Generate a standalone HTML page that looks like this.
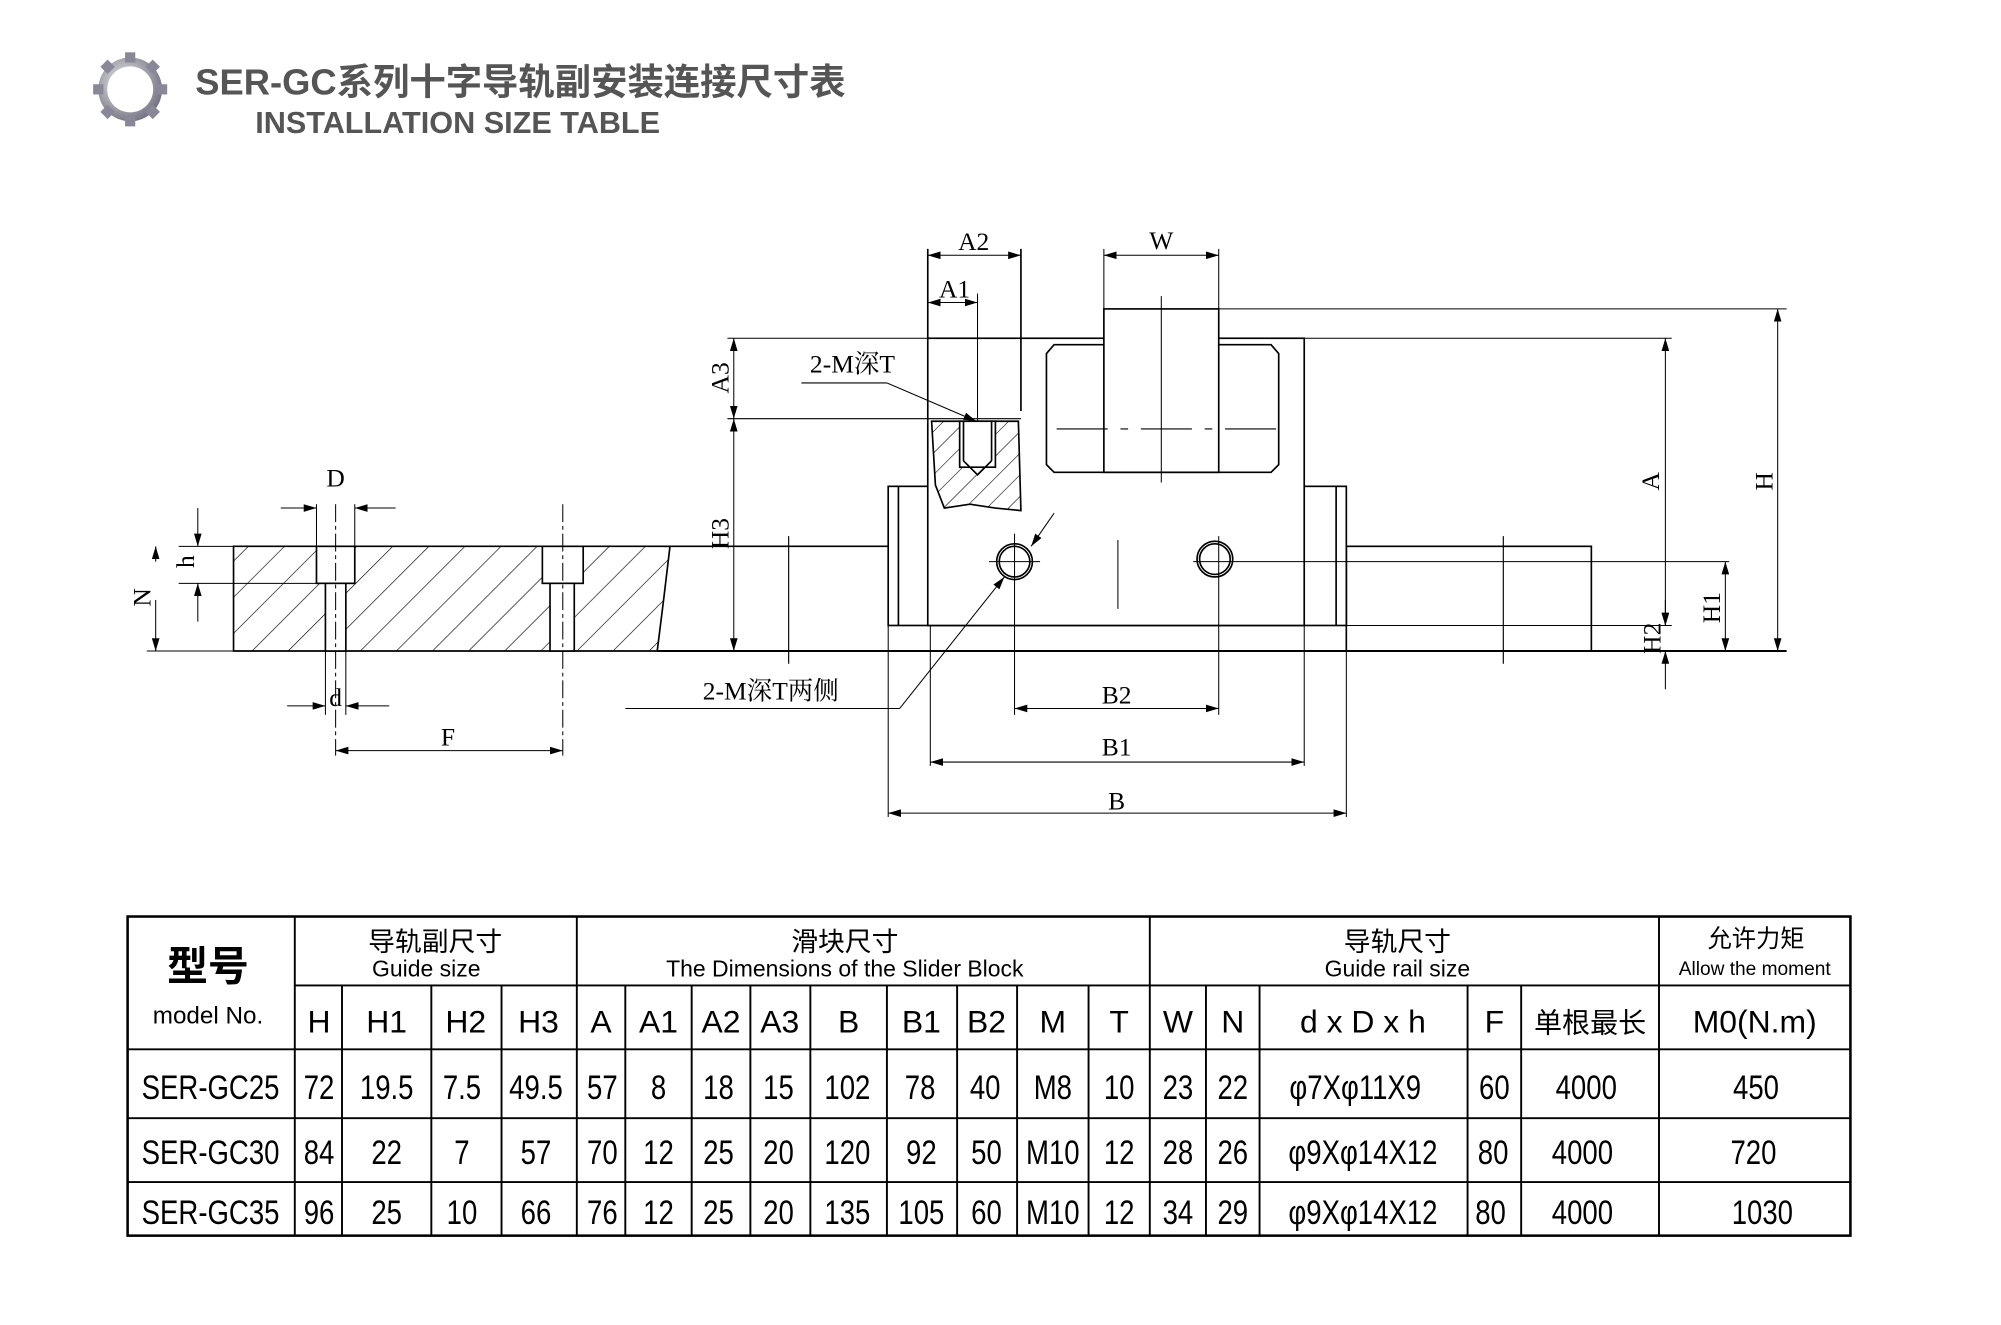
<!DOCTYPE html>
<html><head><meta charset="utf-8"><style>
html,body{margin:0;padding:0;background:#fff;}
svg{display:block;}
.t{font-family:"Liberation Serif","Noto Serif CJK SC",serif;}
.s{font-family:"Liberation Sans","Noto Sans CJK SC",sans-serif;}
</style></head><body>
<svg width="2001" height="1325" viewBox="0 0 1568 1038" preserveAspectRatio="none" xmlns="http://www.w3.org/2000/svg">
<defs>
<pattern id="h" patternUnits="userSpaceOnUse" width="20" height="20" patternTransform="rotate(45)"><line x1="0" y1="0" x2="0" y2="20" stroke="#000" stroke-width="1"/></pattern>
<pattern id="h2" patternUnits="userSpaceOnUse" width="12" height="12" patternTransform="rotate(45)"><line x1="0" y1="0" x2="0" y2="12" stroke="#000" stroke-width="0.9"/></pattern>
<marker id="a" markerWidth="10" markerHeight="6" refX="10" refY="3" orient="auto-start-reverse" markerUnits="userSpaceOnUse"><path d="M0,0 L10,3 L0,6z" fill="#000"/></marker>
<radialGradient id="g" cx="0.4" cy="0.4" r="0.7"><stop offset="0" stop-color="#eee"/><stop offset="1" stop-color="#667"/></radialGradient>
</defs>
<g transform="translate(102,70)">
<circle r="25" fill="url(#g)"/>
<g fill="#889">
<rect x="-4" y="-29" width="8" height="8"/><rect x="-4" y="21" width="8" height="8"/><rect x="-29" y="-4" width="8" height="8"/><rect x="21" y="-4" width="8" height="8"/>
<rect x="-4" y="-29" width="8" height="8" transform="rotate(45)"/><rect x="-4" y="21" width="8" height="8" transform="rotate(45)"/><rect x="-29" y="-4" width="8" height="8" transform="rotate(45)"/><rect x="21" y="-4" width="8" height="8" transform="rotate(45)"/>
</g>
<circle r="18" fill="#fff"/>
</g>
<text x="153" y="74" class="s" font-size="28.5" font-weight="bold" fill="#555">SER-GC系列十字导轨副安装连接尺寸表</text>
<text x="200" y="104" class="s" font-size="24" font-weight="bold" fill="#555">INSTALLATION SIZE TABLE</text>

<g stroke="#000" fill="none" stroke-width="1.3">
<path d="M183,428 L525,428 L520,470 L515,510 L183,510 Z" fill="url(#h)"/>
<rect x="248" y="428" width="30" height="29" fill="#fff"/>
<rect x="255" y="457" width="16" height="53" fill="#fff"/>
<rect x="425" y="428" width="32" height="29" fill="#fff"/>
<rect x="431" y="457" width="19" height="53" fill="#fff"/>
<line x1="263" y1="395" x2="263" y2="592" stroke-dasharray="14,3,3,3" stroke-width="0.8"/>
<line x1="441" y1="395" x2="441" y2="592" stroke-dasharray="14,3,3,3" stroke-width="0.8"/>
<g stroke-width="0.8">
<line x1="248" y1="395" x2="248" y2="428"/><line x1="278" y1="395" x2="278" y2="428"/>
<line x1="220" y1="398" x2="248" y2="398" marker-end="url(#a)"/><line x1="310" y1="398" x2="278" y2="398" marker-end="url(#a)"/>
<line x1="140" y1="428" x2="183" y2="428"/><line x1="140" y1="457" x2="248" y2="457"/><line x1="115" y1="510" x2="183" y2="510"/>
<line x1="155" y1="398" x2="155" y2="428" marker-end="url(#a)"/><line x1="155" y1="487" x2="155" y2="457" marker-end="url(#a)"/>
<line x1="122" y1="440" x2="122" y2="428" marker-end="url(#a)"/><line x1="122" y1="470" x2="122" y2="510" marker-end="url(#a)"/>
<line x1="225" y1="553" x2="255" y2="553" marker-end="url(#a)"/><line x1="305" y1="553" x2="271" y2="553" marker-end="url(#a)"/>
<line x1="255" y1="510" x2="255" y2="560"/><line x1="271" y1="510" x2="271" y2="560"/>
<line x1="263" y1="588" x2="441" y2="588" marker-start="url(#a)" marker-end="url(#a)"/>
</g>
<line x1="520" y1="428" x2="696" y2="428"/>
<line x1="515" y1="510" x2="1400" y2="510" stroke-width="1.6"/>
<rect x="1055" y="428" width="192" height="82"/>
<line x1="618" y1="420" x2="618" y2="520" stroke-width="0.9"/>
<line x1="1178" y1="420" x2="1178" y2="520" stroke-width="0.9"/>
<rect x="696" y="381" width="359" height="109"/>
<line x1="704" y1="381" x2="704" y2="490"/><line x1="1047" y1="381" x2="1047" y2="490"/>
<rect x="727" y="265" width="295" height="225" fill="#fff"/>
<path d="M826,270 L996,270 L1002,277 L1002,364 L996,370 L826,370 L820,364 L820,277 Z"/>
<rect x="865" y="242" width="90" height="128" fill="#fff"/>
<line x1="910" y1="232" x2="910" y2="378" stroke-width="0.8"/>
<line x1="828" y1="336" x2="1000" y2="336" stroke-dasharray="40,10,6,10" stroke-width="0.9"/>
<line x1="955" y1="242" x2="1400" y2="242" stroke-width="0.8"/>
<line x1="1022" y1="265" x2="1310" y2="265" stroke-width="0.8"/>
<line x1="570" y1="265" x2="727" y2="265" stroke-width="0.8"/>
<path d="M730,330 L798,330 L800,400 L780,398 L760,395 L740,398 L733,380 Z" fill="url(#h2)"/>
<rect x="752" y="330" width="28" height="36" fill="#fff"/>
<path d="M755,330 L755,361 M777,330 L777,361 M755,361 L766,372 L777,361"/>
<line x1="727" y1="328" x2="800" y2="328" stroke-width="0.8"/>
<line x1="570" y1="328" x2="727" y2="328" stroke-width="0.8"/>
<line x1="800" y1="195" x2="800" y2="322"/><line x1="727" y1="195" x2="727" y2="265"/>
<line x1="766" y1="230" x2="766" y2="330" stroke-width="0.8"/>
<circle cx="795" cy="440" r="14"/><circle cx="795" cy="440" r="12"/>
<circle cx="952" cy="438" r="14"/><circle cx="952" cy="438" r="12"/>
<g stroke-width="0.8">
<line x1="775" y1="440" x2="815" y2="440"/><line x1="795" y1="418" x2="795" y2="560"/>
<line x1="935" y1="440" x2="1355" y2="440"/><line x1="955" y1="420" x2="955" y2="560"/>
<line x1="876" y1="423" x2="876" y2="477"/>
<line x1="696" y1="490" x2="696" y2="640"/><line x1="1055" y1="490" x2="1055" y2="640"/>
<line x1="729" y1="490" x2="729" y2="600"/><line x1="1022" y1="490" x2="1022" y2="600"/>
<line x1="727" y1="200" x2="800" y2="200" marker-start="url(#a)" marker-end="url(#a)"/>
<line x1="727" y1="237" x2="766" y2="237" marker-start="url(#a)" marker-end="url(#a)"/>
<line x1="865" y1="195" x2="865" y2="242"/><line x1="955" y1="195" x2="955" y2="242"/>
<line x1="865" y1="200" x2="955" y2="200" marker-start="url(#a)" marker-end="url(#a)"/>
<line x1="575" y1="265" x2="575" y2="328" marker-start="url(#a)" marker-end="url(#a)"/>
<line x1="575" y1="328" x2="575" y2="510" marker-start="url(#a)" marker-end="url(#a)"/>
<line x1="1393" y1="242" x2="1393" y2="510" marker-start="url(#a)" marker-end="url(#a)"/>
<line x1="1305" y1="265" x2="1305" y2="490" marker-start="url(#a)" marker-end="url(#a)"/>
<line x1="1305" y1="470" x2="1305" y2="490" marker-end="url(#a)"/><line x1="1305" y1="540" x2="1305" y2="510" marker-end="url(#a)"/>
<line x1="1055" y1="490" x2="1310" y2="490"/>
<line x1="1352" y1="440" x2="1352" y2="510" marker-start="url(#a)" marker-end="url(#a)"/>
<line x1="795" y1="555" x2="955" y2="555" marker-start="url(#a)" marker-end="url(#a)"/>
<line x1="729" y1="597" x2="1022" y2="597" marker-start="url(#a)" marker-end="url(#a)"/>
<line x1="696" y1="637" x2="1055" y2="637" marker-start="url(#a)" marker-end="url(#a)"/>
<line x1="490" y1="555" x2="705" y2="555"/>
<line x1="705" y1="555" x2="787" y2="452" marker-end="url(#a)"/>
<line x1="826" y1="402" x2="808" y2="428" marker-end="url(#a)"/>
<line x1="628" y1="300" x2="695" y2="300"/>
<line x1="695" y1="300" x2="765" y2="330" marker-end="url(#a)"/>
</g>
</g>
<g class="t" font-size="20" text-anchor="middle" fill="#000">
<text x="263" y="381">D</text>
<text x="351" y="584">F</text>
<text x="263" y="553">d</text>
<text x="763" y="196">A2</text>
<text x="748" y="233">A1</text>
<text x="910" y="195">W</text>
<text x="875" y="551">B2</text>
<text x="875" y="592">B1</text>
<text x="875" y="634">B</text>
<text x="668" y="292">2-M深T</text>
<text x="604" y="548">2-M深T两侧</text>
<text transform="translate(571,296) rotate(-90)">A3</text>
<text transform="translate(571,418) rotate(-90)">H3</text>
<text transform="translate(1300,377) rotate(-90)">A</text>
<text transform="translate(1389,377) rotate(-90)">H</text>
<text transform="translate(1348,476) rotate(-90)">H1</text>
<text transform="translate(1301,500) rotate(-90)">H2</text>
<text transform="translate(152,440) rotate(-90)">h</text>
<text transform="translate(118,468) rotate(-90)">N</text>
</g>

<g stroke="#000" stroke-width="1.5" fill="none">
<rect x="100" y="718" width="1350" height="250" stroke-width="2"/>
<line x1="231" y1="772" x2="1450" y2="772"/>
<line x1="100" y1="822" x2="1450" y2="822"/>
<line x1="100" y1="876" x2="1450" y2="876"/>
<line x1="100" y1="926" x2="1450" y2="926"/>
<line x1="231" y1="718" x2="231" y2="968"/>
<line x1="452" y1="718" x2="452" y2="968"/>
<line x1="901" y1="718" x2="901" y2="968"/>
<line x1="1300" y1="718" x2="1300" y2="968"/>
<line x1="268" y1="772" x2="268" y2="968"/><line x1="338" y1="772" x2="338" y2="968"/><line x1="393" y1="772" x2="393" y2="968"/>
<line x1="490" y1="772" x2="490" y2="968"/><line x1="542" y1="772" x2="542" y2="968"/><line x1="588" y1="772" x2="588" y2="968"/><line x1="635" y1="772" x2="635" y2="968"/><line x1="695" y1="772" x2="695" y2="968"/><line x1="750" y1="772" x2="750" y2="968"/><line x1="797" y1="772" x2="797" y2="968"/><line x1="853" y1="772" x2="853" y2="968"/>
<line x1="945" y1="772" x2="945" y2="968"/><line x1="987" y1="772" x2="987" y2="968"/><line x1="1150" y1="772" x2="1150" y2="968"/><line x1="1192" y1="772" x2="1192" y2="968"/>
</g>
<g class="s" text-anchor="middle" fill="#000">
<text x="163" y="768" font-size="32" font-weight="bold">型号</text>
<text x="163" y="802" font-size="19">model No.</text>
<text x="341" y="745" font-size="21">导轨副尺寸</text>
<text x="334" y="765" font-size="18">Guide size</text>
<text x="662" y="745" font-size="21">滑块尺寸</text>
<text x="662" y="765" font-size="18">The Dimensions of the Slider Block</text>
<text x="1095" y="745" font-size="21">导轨尺寸</text>
<text x="1095" y="765" font-size="18">Guide rail size</text>
<text x="1376" y="742" font-size="19">允许力矩</text>
<text x="1375" y="764" font-size="15">Allow the moment</text>
<g font-size="25">
<text x="250" y="809">H</text><text x="303" y="809">H1</text><text x="365" y="809">H2</text><text x="422" y="809">H3</text>
<text x="471" y="809">A</text><text x="516" y="809">A1</text><text x="565" y="809">A2</text><text x="611" y="809">A3</text><text x="665" y="809">B</text><text x="722" y="809">B1</text><text x="773" y="809">B2</text><text x="825" y="809">M</text><text x="877" y="809">T</text>
<text x="923" y="809">W</text><text x="966" y="809">N</text><text x="1068" y="809">d x D x h</text><text x="1171" y="809">F</text><text x="1246" y="809" font-size="22">单根最长</text><text x="1375" y="809">M0(N.m)</text>
</g>
</g>
<g class="s" font-size="27" text-anchor="middle" fill="#000">
<text transform="translate(165,861) scale(0.8,1)">SER-GC25</text>
<text transform="translate(165,912) scale(0.8,1)">SER-GC30</text>
<text transform="translate(165,959) scale(0.8,1)">SER-GC35</text>
<g>
<text transform="translate(250,861) scale(0.8,1)">72</text><text transform="translate(303,861) scale(0.8,1)">19.5</text><text transform="translate(362,861) scale(0.8,1)">7.5</text><text transform="translate(420,861) scale(0.8,1)">49.5</text><text transform="translate(472,861) scale(0.8,1)">57</text><text transform="translate(516,861) scale(0.8,1)">8</text><text transform="translate(563,861) scale(0.8,1)">18</text><text transform="translate(610,861) scale(0.8,1)">15</text><text transform="translate(664,861) scale(0.8,1)">102</text><text transform="translate(721,861) scale(0.8,1)">78</text><text transform="translate(772,861) scale(0.8,1)">40</text><text transform="translate(825,861) scale(0.8,1)">M8</text><text transform="translate(877,861) scale(0.8,1)">10</text><text transform="translate(923,861) scale(0.8,1)">23</text><text transform="translate(966,861) scale(0.8,1)">22</text><text transform="translate(1062,861) scale(0.8,1)">φ7Xφ11X9</text><text transform="translate(1171,861) scale(0.8,1)">60</text><text transform="translate(1243,861) scale(0.8,1)">4000</text><text transform="translate(1376,861) scale(0.8,1)">450</text>
</g>
<g>
<text transform="translate(250,912) scale(0.8,1)">84</text><text transform="translate(303,912) scale(0.8,1)">22</text><text transform="translate(362,912) scale(0.8,1)">7</text><text transform="translate(420,912) scale(0.8,1)">57</text><text transform="translate(472,912) scale(0.8,1)">70</text><text transform="translate(516,912) scale(0.8,1)">12</text><text transform="translate(563,912) scale(0.8,1)">25</text><text transform="translate(610,912) scale(0.8,1)">20</text><text transform="translate(664,912) scale(0.8,1)">120</text><text transform="translate(722,912) scale(0.8,1)">92</text><text transform="translate(773,912) scale(0.8,1)">50</text><text transform="translate(825,912) scale(0.8,1)">M10</text><text transform="translate(877,912) scale(0.8,1)">12</text><text transform="translate(923,912) scale(0.8,1)">28</text><text transform="translate(966,912) scale(0.8,1)">26</text><text transform="translate(1068,912) scale(0.8,1)">φ9Xφ14X12</text><text transform="translate(1170,912) scale(0.8,1)">80</text><text transform="translate(1240,912) scale(0.8,1)">4000</text><text transform="translate(1374,912) scale(0.8,1)">720</text>
</g>
<g>
<text transform="translate(250,959) scale(0.8,1)">96</text><text transform="translate(303,959) scale(0.8,1)">25</text><text transform="translate(362,959) scale(0.8,1)">10</text><text transform="translate(420,959) scale(0.8,1)">66</text><text transform="translate(472,959) scale(0.8,1)">76</text><text transform="translate(516,959) scale(0.8,1)">12</text><text transform="translate(563,959) scale(0.8,1)">25</text><text transform="translate(610,959) scale(0.8,1)">20</text><text transform="translate(664,959) scale(0.8,1)">135</text><text transform="translate(722,959) scale(0.8,1)">105</text><text transform="translate(773,959) scale(0.8,1)">60</text><text transform="translate(825,959) scale(0.8,1)">M10</text><text transform="translate(877,959) scale(0.8,1)">12</text><text transform="translate(923,959) scale(0.8,1)">34</text><text transform="translate(966,959) scale(0.8,1)">29</text><text transform="translate(1068,959) scale(0.8,1)">φ9Xφ14X12</text><text transform="translate(1168,959) scale(0.8,1)">80</text><text transform="translate(1240,959) scale(0.8,1)">4000</text><text transform="translate(1381,959) scale(0.8,1)">1030</text>
</g>
</g>
</svg>
</body></html>
